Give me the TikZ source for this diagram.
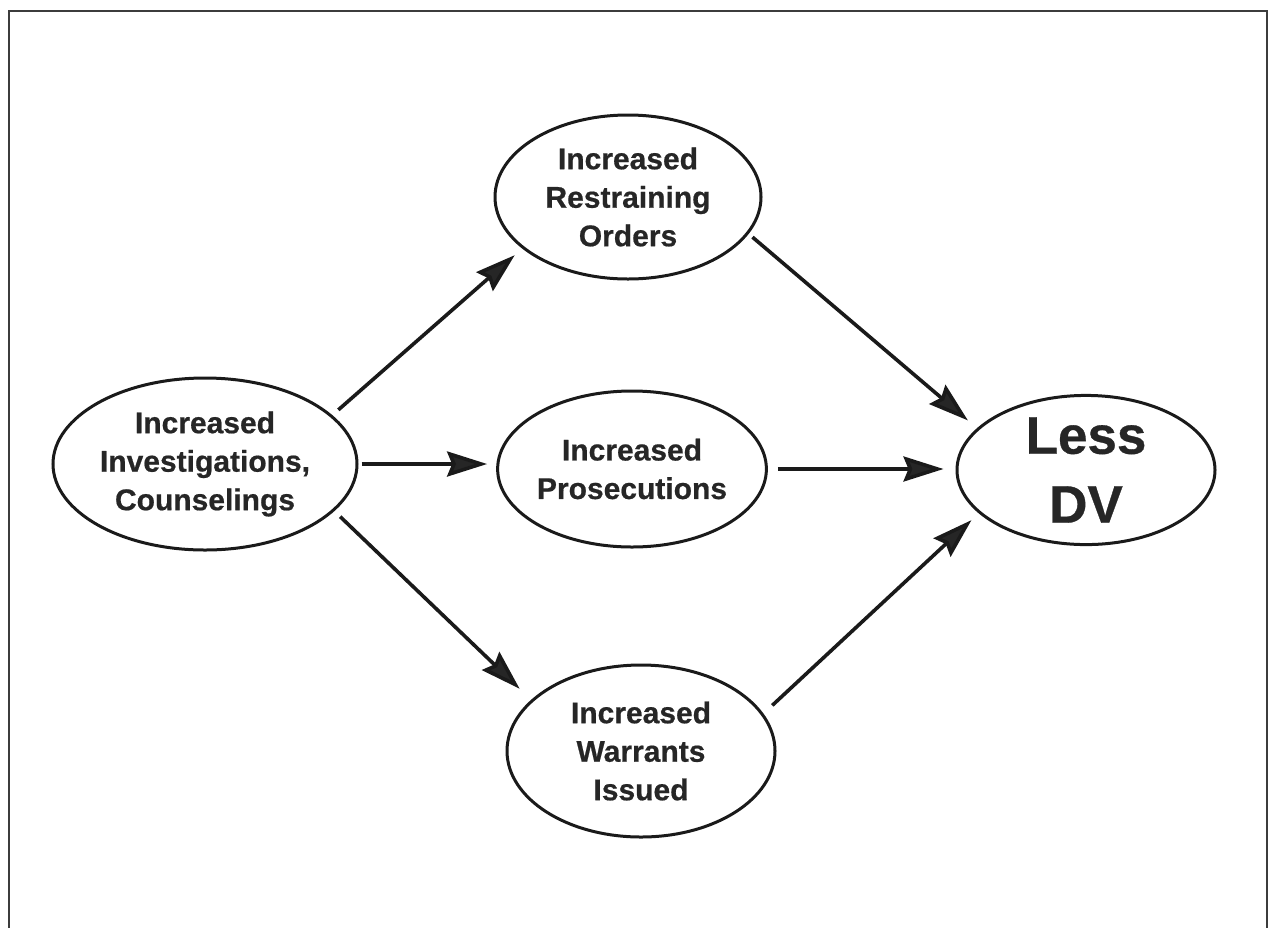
\documentclass[tikz,border=0pt]{standalone}
\usepackage{fontspec}
\setmainfont{Liberation Sans}[BoldFeatures={FakeBold=0.6}]
\usetikzlibrary{shapes.geometric,arrows.meta}
\definecolor{ink}{HTML}{1A1A1A}
\definecolor{txt}{HTML}{262626}
\tikzset{
  oval/.style={draw=ink, line width=3pt, ellipse, inner sep=0pt, align=center,
    text=txt, font=\fontsize{30}{38.5}\selectfont\bfseries},
  arr/.style={draw=ink, line width=3.6pt,
    -{Stealth[length=40pt,width=25pt,inset=5pt,fill=txt]}},
  frame/.style={draw=ink!85, line width=2.8pt}
}
\begin{document}
\begin{tikzpicture}[x=1pt,y=-1pt]
\useasboundingbox (0,0) rectangle (1279,927);
\draw[frame] (9,930) -- (9,11) -- (1267,11) -- (1267,930);

\node[oval, minimum width=304pt, minimum height=172pt] (L) at (205,464)
  {Increased\\Investigations,\\Counselings};
\node[oval, minimum width=266pt, minimum height=164pt] (T) at (628,197)
  {Increased\\Restraining\\Orders};
\node[oval, minimum width=256pt, minimum height=156pt] (M) at (632,469)
  {Increased\\Prosecutions};
\node[oval, minimum width=268pt, minimum height=172pt] (B) at (641,751)
  {Increased\\Warrants\\Issued};
\node[oval, minimum width=258pt, minimum height=144pt,
  font=\fontsize{53}{69}\selectfont\bfseries] (R) at (1086,470)
  {Less\\DV};

\draw[arr, shorten <=8pt, shorten >=10pt] (L.21) -- (T.206);
\draw[arr, shorten <=3pt, shorten >=9pt] (L.east) -- (M.west |- L.east);
\draw[arr, shorten <=8pt, shorten >=16pt] (L.-20) -- (B.155);
\draw[arr, shorten <=5pt, shorten >=12pt] (T.-17) -- (R.159);
\draw[arr, shorten <=10pt, shorten >=12pt] (M.east) -- (R.west |- M.east);
\draw[arr, shorten <=12pt, shorten >=10pt] (B.17) -- (R.202);
\end{tikzpicture}
\end{document}
